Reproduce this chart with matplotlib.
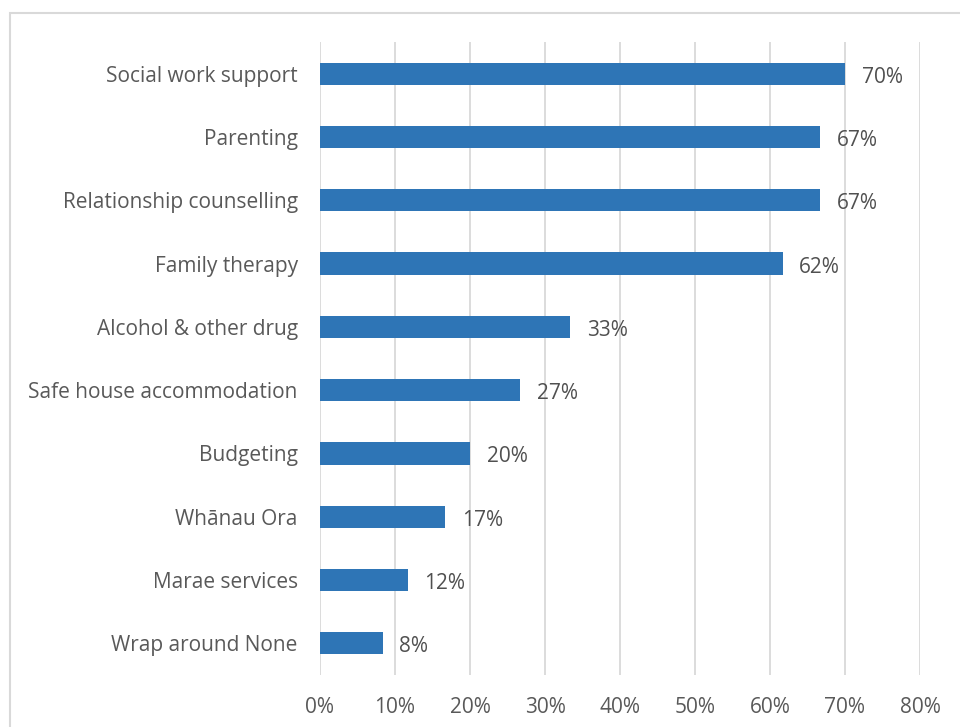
import matplotlib
matplotlib.use("Agg")
import matplotlib.pyplot as plt
from matplotlib.patches import Rectangle
from matplotlib.ticker import FuncFormatter

categories = [
    "Social work support",
    "Parenting",
    "Relationship counselling",
    "Family therapy",
    "Alcohol & other drug",
    "Safe house accommodation",
    "Budgeting",
    "Whānau Ora",
    "Marae services",
    "Wrap around None",
]
# share of respondents (fraction)
shares = [42/60, 40/60, 40/60, 37/60, 20/60, 16/60, 12/60, 10/60, 7/60, 5/60]
x_ticks = [0, 0.1, 0.2, 0.3, 0.4, 0.5, 0.6, 0.7, 0.8]

bar_color = "#2E75B6"
text_color = "#595959"
grid_color = "#D9D9D9"
font = ["Open Sans", "DejaVu Sans"]

plt.rcParams["font.family"] = font

fig = plt.figure(figsize=(9.6, 7.27), dpi=100)
ax = fig.add_axes([320/960, 1 - 675/727, 600/960, 633/727])

ypos = list(range(len(categories)))
ax.barh(ypos, shares, height=0.35, color=bar_color, zorder=3)
for y, v in zip(ypos, shares):
    ax.annotate(f"{round(v*100):.0f}%", xy=(v, y), xytext=(12, -2.5),
                textcoords="offset points", va="center", ha="left",
                fontsize=15, color="#505050")

ax.set_xlim(0, 0.8)
ax.set_ylim(len(categories) - 0.5, -0.5)
ax.set_yticks(ypos)
ax.set_yticklabels(categories)
ax.set_xticks(x_ticks)
ax.xaxis.set_major_formatter(FuncFormatter(lambda v, p: f"{round(v*100):.0f}%"))
ax.tick_params(axis="both", length=0, labelsize=15, colors=text_color)
ax.tick_params(axis="y", pad=16)
ax.tick_params(axis="x", pad=16)
ax.grid(axis="x", color=grid_color, linewidth=1.3, zorder=0)
for s in ax.spines.values():
    s.set_visible(False)

fig.patches.append(Rectangle((10/960, -0.1), 1.2, 1 - 13/727 + 0.1,
                             transform=fig.transFigure, fill=False,
                             edgecolor=grid_color, linewidth=1.5))

fig.savefig("out.png", dpi=100)
